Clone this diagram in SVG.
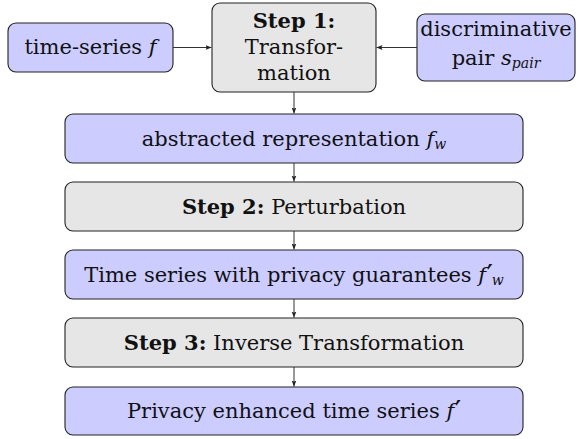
<svg xmlns="http://www.w3.org/2000/svg" width="578" height="439" viewBox="0 0 578 439">
<defs>
<marker id="ah" viewBox="0 0 8 8" refX="8" refY="4" markerWidth="6" markerHeight="6" markerUnits="userSpaceOnUse" orient="auto">
<path d="M0,0.8 L8,4 L0,7.2 L1.6,4 Z" fill="#222"/>
</marker>
<style>
.blue{fill:#ccccff;stroke:#222;stroke-width:1.1}
.gray{fill:#e6e6e6;stroke:#222;stroke-width:1.1}
text{font-family:"DejaVu Serif",serif;font-size:21px;fill:#111;text-anchor:middle}
.b{font-weight:bold}
.i{font-style:italic}
.sub{font-size:14px;font-style:italic}
.pr{font-size:22px;font-weight:bold}
.conn line{stroke:#333;stroke-width:1;marker-end:url(#ah)}
</style>
</defs>
<rect width="578" height="439" fill="#fff"/>
<g id="ts">
<rect class="blue" x="8" y="23" width="165" height="49" rx="8"/>
<text x="90.5" y="54">time-series <tspan class="i">f</tspan></text>
</g>
<g id="step1">
<rect class="gray" x="212" y="3" width="164" height="89" rx="8"/>
<text x="294" y="28" class="b">Step 1:</text>
<text x="294" y="54">Transfor-</text>
<text x="294" y="80">mation</text>
</g>
<g id="pair">
<rect class="blue" x="417" y="14" width="158" height="67" rx="8"/>
<text x="496" y="36">discriminative</text>
<text x="496" y="65">pair <tspan class="i">s</tspan><tspan class="sub" dy="3">pair</tspan></text>
</g>
<g id="abs">
<rect class="blue" x="65" y="114" width="458" height="49" rx="8"/>
<text x="294" y="146">abstracted representation <tspan class="i">f</tspan><tspan class="sub" dy="3">w</tspan></text>
</g>
<g id="step2">
<rect class="gray" x="65" y="182" width="458" height="49" rx="8"/>
<text x="294" y="214"><tspan class="b">Step 2:</tspan> Perturbation</text>
</g>
<g id="priv">
<rect class="blue" x="65" y="250" width="458" height="49" rx="8"/>
<text x="294" y="282">Time series with privacy guarantees <tspan class="i">f</tspan><tspan class="pr" dx="1" dy="-2">′</tspan><tspan class="sub" dx="-1" dy="5">w</tspan></text>
</g>
<g id="step3">
<rect class="gray" x="65" y="318" width="458" height="49" rx="8"/>
<text x="294" y="350"><tspan class="b">Step 3:</tspan> Inverse Transformation</text>
</g>
<g id="out">
<rect class="blue" x="65" y="387" width="458" height="48" rx="8"/>
<text x="294" y="418">Privacy enhanced time series <tspan class="i">f</tspan><tspan class="pr" dx="1" dy="-2">′</tspan></text>
</g>
<g class="conn">
<line x1="173" y1="47.5" x2="211.5" y2="47.5"/>
<line x1="417" y1="47.5" x2="376.5" y2="47.5"/>
<line x1="294" y1="92" x2="294" y2="113.5"/>
<line x1="294" y1="163" x2="294" y2="181.5"/>
<line x1="294" y1="231" x2="294" y2="249.5"/>
<line x1="294" y1="299" x2="294" y2="317.5"/>
<line x1="294" y1="367" x2="294" y2="386.5"/>
</g>
</svg>
